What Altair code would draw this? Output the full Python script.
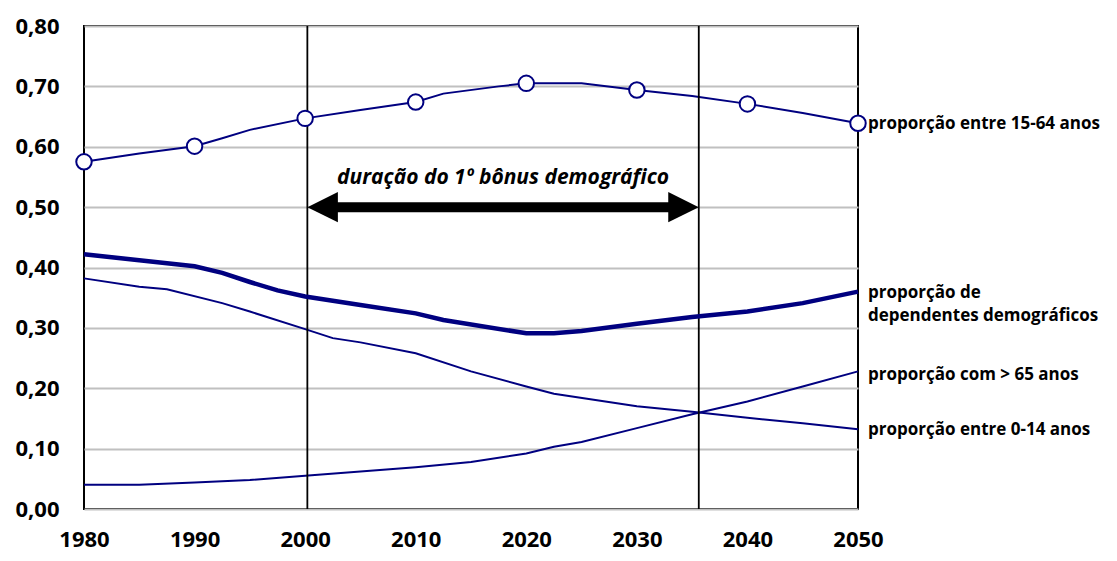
import altair as alt
import pandas as pd

# ---- data ----
years_1564 = [1980, 1985, 1990, 1992.5, 1995, 2000, 2005, 2010, 2012.5, 2017.5, 2020, 2025, 2030, 2035, 2040, 2045, 2050]
vals_1564 = [0.575, 0.589, 0.601, 0.614, 0.628, 0.647, 0.661, 0.674, 0.688, 0.700, 0.705, 0.705, 0.694, 0.684, 0.671, 0.656, 0.639]

marker_years = [1980, 1990, 2000, 2010, 2020, 2030, 2040, 2050]
marker_vals = [0.575, 0.601, 0.647, 0.674, 0.705, 0.694, 0.671, 0.639]

years_dep = [1980, 1985, 1990, 1992.5, 1995, 1997.5, 2000, 2005, 2010, 2012.5, 2020, 2022.5, 2025, 2030, 2035, 2040, 2045, 2050]
vals_dep = [0.422, 0.412, 0.402, 0.391, 0.376, 0.362, 0.352, 0.338, 0.324, 0.313, 0.291, 0.291, 0.295, 0.307, 0.318, 0.327, 0.341, 0.360]

years_014 = [1980, 1985, 1987.5, 1992.5, 1995, 2000, 2002.5, 2005, 2010, 2015, 2020, 2022.5, 2030, 2035, 2040, 2045, 2050]
vals_014 = [0.382, 0.368, 0.364, 0.341, 0.327, 0.298, 0.283, 0.276, 0.258, 0.228, 0.203, 0.191, 0.170, 0.161, 0.151, 0.142, 0.132]

years_65 = [1980, 1985, 1990, 1995, 2000, 2010, 2015, 2020, 2022.5, 2025, 2030, 2035, 2040, 2045, 2050]
vals_65 = [0.040, 0.040, 0.044, 0.048, 0.055, 0.069, 0.078, 0.092, 0.103, 0.111, 0.134, 0.157, 0.178, 0.203, 0.228]

bonus_start = 2000.2
bonus_end = 2035.6
bonus_level = 0.50
bonus_text = "duração do 1º bônus demográfico"
bonus_text_level = 0.549

label_texts = ["proporção entre 15-64 anos", "proporção de\ndependentes demográficos",
               "proporção com > 65 anos", "proporção entre 0-14 anos"]
label_levels = [0.637, 0.357, 0.222, 0.131]

x_ticks = [1980, 1990, 2000, 2010, 2020, 2030, 2040, 2050]
y_ticks = [0.0, 0.1, 0.2, 0.3, 0.4, 0.5, 0.6, 0.7, 0.8]

NAVY = "#000080"
FONT = "Open Sans"

# ---- tables ----
thin = pd.concat([
    pd.DataFrame({"ano": years_1564, "v": vals_1564, "s": "1564"}),
    pd.DataFrame({"ano": years_014, "v": vals_014, "s": "014"}),
    pd.DataFrame({"ano": years_65, "v": vals_65, "s": "65"}),
])
dep = pd.DataFrame({"ano": years_dep, "v": vals_dep})
markers = pd.DataFrame({"ano": marker_years, "v": marker_vals})
vlines = pd.DataFrame({"ano": [bonus_start, bonus_end]})
arrow = pd.DataFrame({"a": [bonus_start], "b": [bonus_end], "v": [bonus_level]})
head_left = pd.DataFrame({"ano": [bonus_start], "v": [bonus_level]})
head_right = pd.DataFrame({"ano": [bonus_end], "v": [bonus_level]})
btext = pd.DataFrame({"ano": [(bonus_start + bonus_end) / 2], "v": [bonus_text_level], "t": [bonus_text]})
labels = pd.DataFrame({"ano": [2050] * len(label_texts), "v": label_levels, "t": label_texts})

xs = alt.Scale(domain=[1980, 2050], nice=False, zero=False)
ys = alt.Scale(domain=[0, 0.8], nice=False)

X = alt.X("ano:Q", scale=xs, axis=alt.Axis(
    values=x_ticks, format="d", title=None, grid=False, domain=False, ticks=False,
    labelFont=FONT, labelFontSize=22, labelFontWeight="bold", labelColor="black",
    labelPadding=20, labelFlush=False))
Y = alt.Y("v:Q", scale=ys, axis=alt.Axis(
    values=y_ticks, title=None, grid=True, gridColor="#c0c0c0", gridWidth=2,
    domain=False, ticks=False,
    labelExpr="replace(format(datum.value, '.2f'), '.', ',')",
    labelFont=FONT, labelFontSize=22, labelFontWeight="bold", labelColor="black",
    labelPadding=25))

base_lines = alt.Chart(thin).mark_line(color=NAVY, strokeWidth=2).encode(
    x=X, y=Y, detail="s:N", order="ano:Q")

dep_line = alt.Chart(dep).mark_line(color=NAVY, strokeWidth=4.5).encode(
    x="ano:Q", y="v:Q", order="ano:Q")

vrules = alt.Chart(vlines).mark_rule(color="black", strokeWidth=1.8).encode(x="ano:Q")

shaft = alt.Chart(arrow).mark_rule(color="black", strokeWidth=10, xOffset=25, x2Offset=-25).encode(
    x="a:Q", x2="b:Q", y="v:Q")

head_l = alt.Chart(head_left).mark_point(
    shape="M 0 0 L 2 -1 L 2 1 Z", size=930, filled=True, color="black", opacity=1).encode(
    x="ano:Q", y="v:Q")
head_r = alt.Chart(head_right).mark_point(
    shape="M 0 0 L -2 -1 L -2 1 Z", size=930, filled=True, color="black", opacity=1).encode(
    x="ano:Q", y="v:Q")

bonus_lbl = alt.Chart(btext).mark_text(
    font=FONT, fontSize=21, fontWeight="bold", fontStyle="italic", color="black",
    align="center", baseline="middle").encode(x="ano:Q", y="v:Q", text="t:N")

pts = alt.Chart(markers).mark_point(
    shape="circle", size=240, filled=True, fill="white", stroke=NAVY, strokeWidth=2,
    opacity=1).encode(x="ano:Q", y="v:Q")

right_lbl = alt.Chart(labels).mark_text(
    font=FONT, fontSize=17, fontWeight="bold", color="black", align="left",
    baseline="middle", dx=10, lineBreak="\n", lineHeight=23).encode(
    x="ano:Q", y="v:Q", text="t:N")

chart = alt.layer(
    base_lines, vrules, dep_line, shaft, head_l, head_r, bonus_lbl, pts, right_lbl
).properties(
    width=774, height=483,
    autosize=alt.AutoSizeParams(type="none"),
    padding={"left": 76, "top": 18, "right": 251, "bottom": 44},
).configure_view(stroke="black", strokeWidth=2)

chart.save("out.html", embed_options={"renderer": "svg", "actions": False})
